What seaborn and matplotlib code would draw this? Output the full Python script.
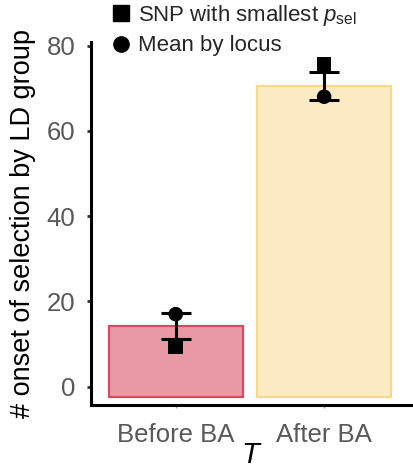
import matplotlib
matplotlib.use("Agg")
import matplotlib.pyplot as plt
import pandas as pd
import seaborn as sns
from matplotlib.lines import Line2D

# Data
periods = ["Before BA", "After BA"]
bar_values = [14.3, 70.6]
bar_base = -2.5
snp_smallest = [9.3, 75.7]
mean_by_locus = [17.0, 68.0]
err_low = [11.1, 67.2]
err_high = [17.2, 73.7]

fill_colors = ["#E899A3", "#FDEBC4"]
edge_colors = ["#D64B63", "#F7D98E"]

sns.set_style("white")
plt.rcParams["font.family"] = ["Liberation Sans", "DejaVu Sans"]
plt.rcParams["mathtext.fontset"] = "custom"
plt.rcParams["mathtext.rm"] = "Liberation Sans"
plt.rcParams["mathtext.it"] = "Liberation Sans:italic"

df = pd.DataFrame({
    "Period": periods,
    "Height": [v - bar_base for v in bar_values],
})

fig = plt.figure(figsize=(4.14, 4.69), dpi=100)
ax = fig.add_axes([0.219, 0.1365, 0.7755, 0.7745])

sns.barplot(data=df, x="Period", y="Height", hue="Period",
            palette=fill_colors, saturation=1, legend=False, width=0.9,
            bottom=bar_base, linewidth=1.6, ax=ax)
for patch, ec in zip(ax.patches, edge_colors):
    patch.set_edgecolor(ec)

xs = range(len(periods))
for x, lo, hi in zip(xs, err_low, err_high):
    ax.errorbar(x, (lo + hi) / 2, yerr=(hi - lo) / 2, fmt="none",
                ecolor="black", elinewidth=2.2, capsize=11, capthick=2.2, zorder=4)

pts = pd.DataFrame({
    "x": list(xs) * 2,
    "y": snp_smallest + mean_by_locus,
    "kind": ["SNP"] * 2 + ["Mean"] * 2,
})
sns.scatterplot(data=pts, x="x", y="y", style="kind",
                markers={"SNP": "s", "Mean": "o"}, color="black",
                s=110, edgecolor="none", legend=False, zorder=5, ax=ax)

ax.set_xlim(-0.573, 1.59)
ax.set_ylim(-4.3, 80.9)
ax.set_yticks([0, 20, 40, 60, 80])
ax.set_xticks(list(xs))
ax.set_xticklabels(periods)
ax.tick_params(axis="both", labelsize=18.5, labelcolor="#595959")
ax.tick_params(axis="y", left=True, length=3, width=2, color="#333333", pad=8)
ax.tick_params(axis="x", bottom=True, length=2, width=1, color="#999999", pad=11)
ax.set_xlabel("")
fig.text(250 / 414, 1 - 455 / 469, "T", fontsize=21, style="italic",
         ha="center", va="center", color="black")
ax.set_ylabel("# onset of selection by LD group", fontsize=19.5, color="black", labelpad=8)

sns.despine(ax=ax)
for side in ["left", "bottom"]:
    ax.spines[side].set_linewidth(2.2)
    ax.spines[side].set_color("black")

handles = [
    Line2D([], [], marker="s", color="black", linestyle="none", markersize=11),
    Line2D([], [], marker="o", color="black", linestyle="none", markersize=11),
]
labels = [r"SNP with smallest $\mathit{p}_{\mathrm{sel}}$", "Mean by locus"]
fig.legend(handles, labels, loc="upper left", bbox_to_anchor=(0.245, 1.012),
           frameon=False, fontsize=16, handletextpad=0.25, labelspacing=0.32,
           borderaxespad=0, handlelength=1.0)

fig.savefig("out.png", dpi=100)
